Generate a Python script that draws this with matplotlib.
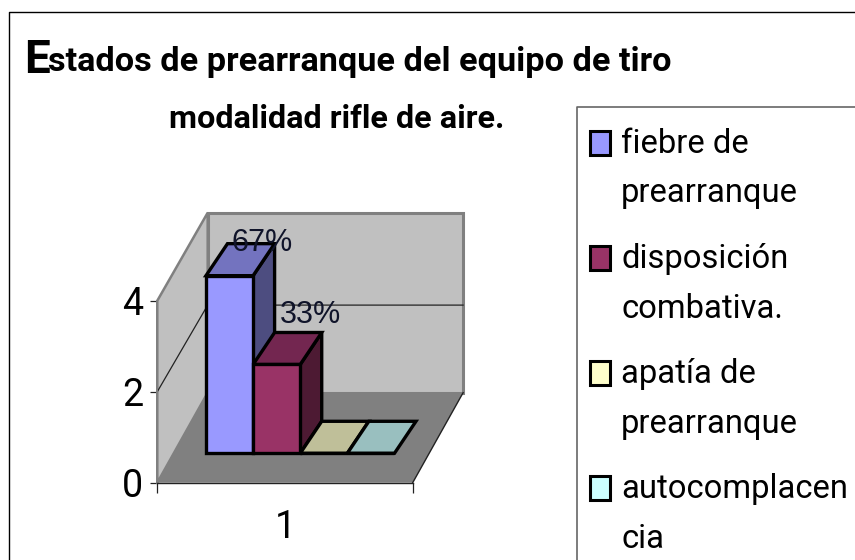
"""Excel-style 3D column chart of pre-start states, air rifle team."""

import matplotlib

matplotlib.use("Agg")

import matplotlib.pyplot as plt
from matplotlib.patches import Polygon, Rectangle

WIDTH, HEIGHT = 855, 560

TITLE_INITIAL = "E"
TITLE_LINE_1 = "stados de prearranque del equipo de tiro"
TITLE_LINE_2 = "modalidad rifle de aire."

CATEGORY = ["1"]
Y_TICKS = [0, 2, 4]
SERIES = ["fiebre de\nprearranque", "disposición\ncombativa.", "apatía de\nprearranque", "autocomplacen\ncia"]
VALUES = [4, 2, 0, 0]
DATA_LABELS = ["67%", "33%"]

FRONT_COLORS = ["#9999FF", "#993366", "#FFFFCC", "#CCFFFF"]
TOP_COLORS = ["#7373BF", "#732650", "#BFBF99", "#99BFBF"]
SIDE_COLORS = ["#4D4D80", "#4D1A33", "#808066", "#668080"]

BODY_FONT = "Roboto"
LEGEND_SIZE = 23.6
TICK_SIZE = 27

# front plane of the plot box, in pixels
PLOT_LEFT, PLOT_RIGHT = 157.3, 412.7
PLOT_BOTTOM, PLOT_TOP = 482.7, 300.7
PX_X = PLOT_RIGHT - PLOT_LEFT
PX_Y = (PLOT_BOTTOM - PLOT_TOP) / 4


def shift(x, value, dx=0.0, dy=0.0, scale=1.0):
    """Front-plane data position moved back by a pixel offset."""
    return (x + dx / PX_X, value * scale + dy / PX_Y)


def face(ax, points, color, edge="none", lw=0.0, zorder=1):
    ax.add_patch(
        Polygon(points, closed=True, facecolor=color, edgecolor=edge, linewidth=lw,
                joinstyle="miter", clip_on=False, zorder=zorder)
    )


def draw_box(ax):
    wall_dx, wall_dy, wall_scale = 50.4, 90.0, 0.989
    top = Y_TICKS[-1]
    back = lambda x, v: shift(x, v, wall_dx, wall_dy, wall_scale)
    face(ax, [(0, 0), back(0, 0), back(0, top), (0, top)], "#C0C0C0", "#808080", 1.8)
    face(ax, [back(0, 0), back(1, 0), back(1, top), back(0, top)], "#C0C0C0", "#808080", 2.2)
    face(ax, [(0, 0), (1, 0), back(1, 0), back(0, 0)], "#808080", "none")
    ax.plot(*zip((1, 0), back(1, 0)), color="#222222", lw=1.0, clip_on=False, zorder=1)
    # gridline at the middle tick, over both walls
    mid = Y_TICKS[1]
    grid_back = lambda x: shift(x, mid, wall_dx, wall_dy - 2.4, wall_scale)
    ax.plot(*zip((0, mid), grid_back(0), grid_back(1)), color="#222222", lw=0.9,
            clip_on=False, zorder=1)


def draw_bars(ax):
    base_dx, base_dy = 16.5, 29.4
    depth_dx, depth_dy = 21.5, 32.0
    scale = 0.976
    start, width = 0.126, 0.1845
    edge = {"edge": "black", "lw": 2.4, "zorder": 3}
    for i, value in enumerate(VALUES):
        x0 = start + i * width
        x1 = x0 + width
        low = (x0 + base_dx / PX_X, base_dy / PX_Y)
        ax.bar(low[0], value * scale, width, bottom=low[1], align="edge", color=FRONT_COLORS[i],
               edgecolor="black", linewidth=2.4, clip_on=False, zorder=4)
        near = lambda x, v: shift(x, v, base_dx, base_dy, scale)
        far = lambda x, v: shift(x, v, base_dx + depth_dx, base_dy + depth_dy, scale)
        if value > 0:
            face(ax, [near(x1, 0), far(x1, 0), far(x1, value), near(x1, value)], SIDE_COLORS[i], **edge)
        face(ax, [near(x0, value), near(x1, value), far(x1, value), far(x0, value)], TOP_COLORS[i], **edge)


def draw_axes(ax):
    ax.set_xlim(0, 1)
    ax.set_ylim(Y_TICKS[0], Y_TICKS[-1])
    ax.patch.set_visible(False)
    for side in ("top", "right"):
        ax.spines[side].set_visible(False)
    ax.spines["left"].set_color("#808080")
    ax.spines["left"].set_linewidth(1.4)
    ax.spines["bottom"].set_color("#222222")
    ax.spines["bottom"].set_linewidth(1.0)
    ax.spines["left"].set_zorder(2)
    ax.spines["bottom"].set_zorder(2)
    ax.set_yticks(Y_TICKS)
    ax.set_xticks([0, 1])
    ax.set_xticklabels([])
    ax.tick_params(axis="y", length=5.2, width=0.9, color="#222222", pad=5, labelsize=TICK_SIZE)
    ax.tick_params(axis="x", length=7.2, width=0.9, color="#222222")
    for label in ax.get_yticklabels():
        label.set_family(BODY_FONT)


def draw_overlay(overlay):
    overlay.set_xlim(0, WIDTH)
    overlay.set_ylim(HEIGHT, 0)
    overlay.axis("off")

    # chart frame and legend box run off the picture
    overlay.plot([9, 9, WIDTH], [HEIGHT, 12, 12], color="black", lw=1.0)
    overlay.plot([576.7, 576.7, WIDTH], [HEIGHT, 107.3, 107.3], color="#666666", lw=1.2)

    title = {"family": BODY_FONT, "weight": "bold", "va": "baseline", "color": "black"}
    overlay.text(24, 73, TITLE_INITIAL, fontsize=33, **title)
    overlay.text(48, 71.5, TITLE_LINE_1, fontsize=24.7, **title)
    overlay.text(169, 128, TITLE_LINE_2, fontsize=23.3, **title)

    overlay.text(285, 537.7, CATEGORY[0], fontsize=TICK_SIZE, family=BODY_FONT, ha="center", va="baseline")

    overlay.text(231.7, 251, DATA_LABELS[0], fontsize=22, family="Liberation Sans",
                 va="baseline", color="#10142A", zorder=6)
    overlay.text(279.7, 323.3, DATA_LABELS[1], fontsize=22, family="Liberation Sans",
                 va="baseline", color="#10142A", zorder=6)

    swatch_tops = [130.7, 245.5, 360.7, 475.7]
    baselines = [152.7, 268, 383, 498]
    for name, color, y, base in zip(SERIES, FRONT_COLORS, swatch_tops, baselines):
        overlay.add_patch(Rectangle((590, y), 20, 24, facecolor=color, edgecolor="black",
                                    linewidth=2.2, zorder=3))
        first, second = name.split("\n")
        overlay.text(621, base, first, fontsize=LEGEND_SIZE, family=BODY_FONT, va="baseline")
        overlay.text(621, base + 49.5, second, fontsize=LEGEND_SIZE, family=BODY_FONT, va="baseline")


def main():
    fig = plt.figure(figsize=(WIDTH / 100, HEIGHT / 100), dpi=100, facecolor="white")
    ax = fig.add_axes([PLOT_LEFT / WIDTH, 1 - PLOT_BOTTOM / HEIGHT, PX_X / WIDTH, (PLOT_BOTTOM - PLOT_TOP) / HEIGHT])
    draw_axes(ax)
    draw_box(ax)
    draw_bars(ax)

    overlay = fig.add_axes([0, 0, 1, 1], zorder=5)
    overlay.patch.set_visible(False)
    draw_overlay(overlay)

    fig.savefig("out.png", dpi=100)


if __name__ == "__main__":
    main()
